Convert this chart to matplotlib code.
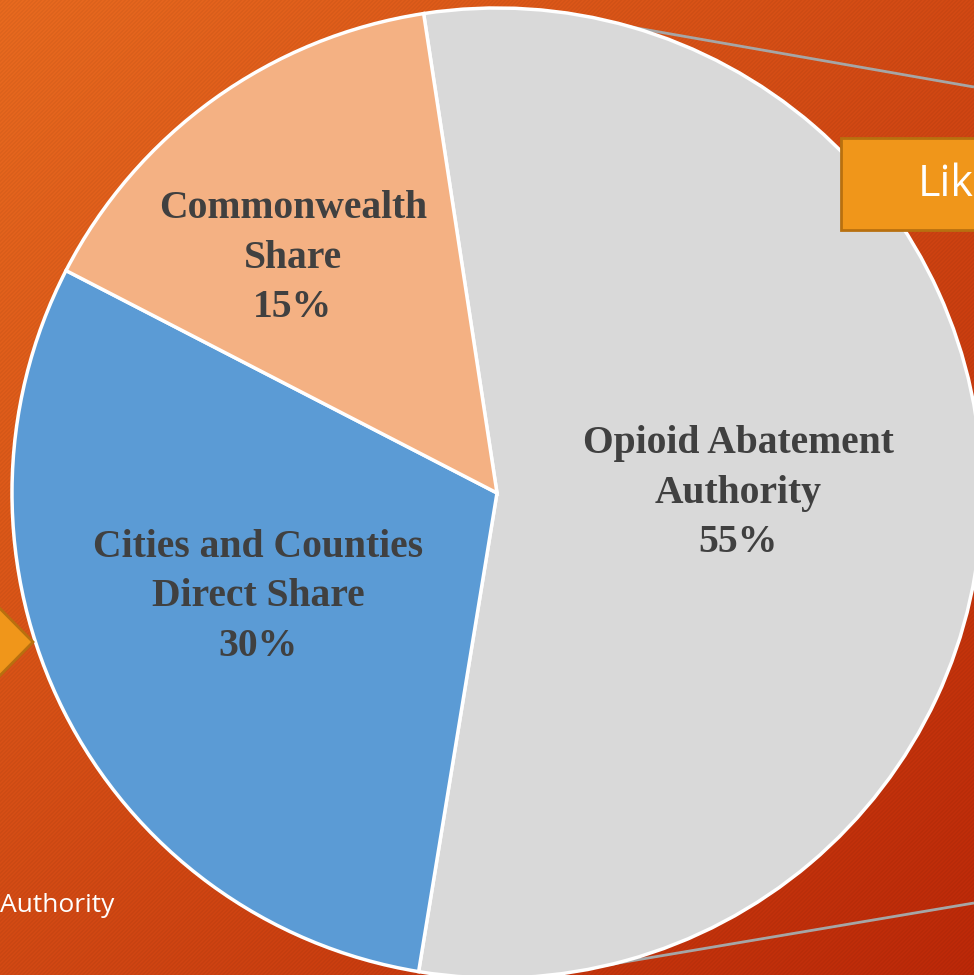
import numpy as np
import matplotlib
matplotlib.use("Agg")
import matplotlib.pyplot as plt
from matplotlib.patches import Polygon, Rectangle

# Data
categories = ["Opioid Abatement\nAuthority", "Cities and Counties\nDirect Share", "Commonwealth\nShare"]
shares = [55, 30, 15]
colors = ["#D9D9D9", "#5B9BD5", "#F4B183"]

W, H = 974, 975
fig = plt.figure(figsize=(W / 100, H / 100), dpi=100)

# background gradient with fine diagonal stripes
bg = fig.add_axes([0, 0, 1, 1])
yy, xx = np.mgrid[0:H, 0:W]
t = (xx / W + yy / H) / 2.0
c0 = np.array([0xE8, 0x6A, 0x1F]) / 255.0
c1 = np.array([0xBC, 0x28, 0x08]) / 255.0
img = c0[None, None, :] * (1 - t[..., None]) + c1[None, None, :] * t[..., None]
stripe = ((xx + yy) % 4 < 2).astype(float)
img = img * (1 - 0.04 * stripe[..., None])
bg.imshow(img, extent=[0, W, 0, H], origin="upper", aspect="auto", zorder=0)
bg.set_xlim(0, W)
bg.set_ylim(0, H)
bg.axis("off")

ax = fig.add_axes([0, 0, 1, 1])
ax.patch.set_alpha(0)
ax.set_xlim(0, W)
ax.set_ylim(0, H)
ax.set_aspect("equal")
ax.axis("off")

def Y(y):
    return H - y

# callout lines behind the pie
ax.plot([585, 974], [Y(19), Y(87)], color="#A6A6A6", lw=2, zorder=1, solid_capstyle="butt")
ax.plot([500, 974], [Y(983), Y(903)], color="#A6A6A6", lw=2, zorder=1, solid_capstyle="butt")

cx, cy, r = 497, Y(493), 485
wedges, _ = ax.pie(shares, colors=colors, startangle=98.7, counterclock=False,
                   center=(cx, cy), radius=r, frame=True,
                   wedgeprops=dict(edgecolor="white", linewidth=2.5))
for w in wedges:
    w.set_zorder(2)
ax.set_xlim(0, W)
ax.set_ylim(0, H)
ax.axis("off")

label_pos = [(738, 493), (258, 597), (293, 258)]
for cat, val, (lx, ly) in zip(categories, shares, label_pos):
    ax.text(lx, Y(ly), f"{cat}\n{val}%", ha="center", va="center",
            fontsize=28.5, fontweight="bold", family="Liberation Serif",
            color="#404040", linespacing=1.45, zorder=5)

# decorations: orange callout box and arrow
ax.add_patch(Rectangle((841, Y(230)), 200, 92, facecolor="#F0961A",
                       edgecolor="#B8700F", lw=2, zorder=6, clip_on=True))
ax.text(918, Y(185), "Lik", color="white", fontsize=31, family="Open Sans",
        ha="left", va="center", zorder=7)
ax.add_patch(Polygon([(-40, Y(568)), (33, Y(642)), (-40, Y(716))], closed=True,
                     facecolor="#F0961A", edgecolor="#B8700F", lw=2, zorder=6))
ax.text(0, Y(905), "Authority", color="white", fontsize=19, family="Open Sans",
        ha="left", va="center", zorder=7)

fig.savefig("out.png", dpi=100)
